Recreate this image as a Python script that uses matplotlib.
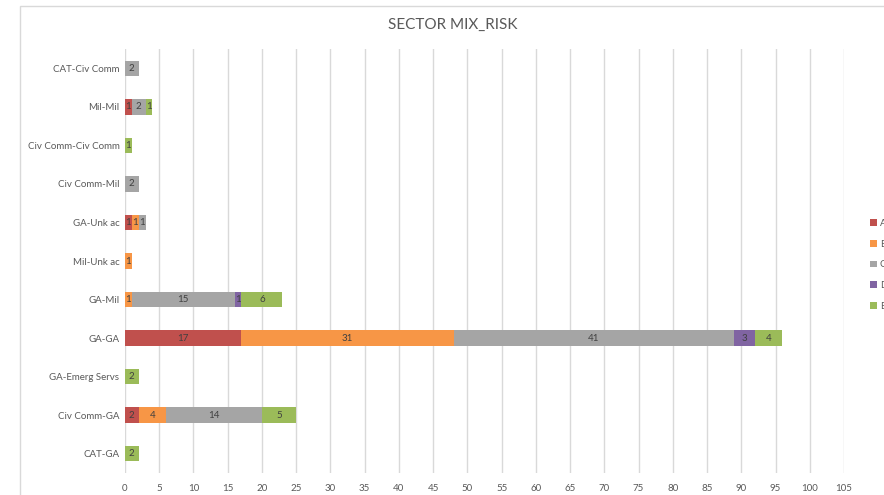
import matplotlib.pyplot as plt
import numpy as np
from matplotlib.patches import Rectangle, Patch

plt.rcParams['font.family'] = ['Lato', 'DejaVu Sans']

categories = ['CAT-Civ Comm', 'Mil-Mil', 'Civ Comm-Civ Comm', 'Civ Comm-Mil',
              'GA-Unk ac', 'Mil-Unk ac', 'GA-Mil', 'GA-GA', 'GA-Emerg Servs',
              'Civ Comm-GA', 'CAT-GA']
series_names = ['A', 'B', 'C', 'D', 'E']
A = [0, 1, 0, 0, 1, 0, 0, 17, 0, 2, 0]
B = [0, 0, 0, 0, 1, 1, 1, 31, 0, 4, 0]
C = [2, 2, 0, 2, 1, 0, 15, 41, 0, 14, 0]
D = [0, 0, 0, 0, 0, 0, 1, 3, 0, 0, 0]
E = [0, 1, 1, 0, 0, 0, 6, 4, 2, 5, 2]
colors = ['#C0504D', '#F79646', '#A5A5A5', '#8064A2', '#9BBB59']
xticks = list(range(0, 110, 5))

fig = plt.figure(figsize=(8.84, 4.95), dpi=100)
fig.patch.set_facecolor('white')

# chart frame
fig.patches.append(Rectangle((20 / 884, -0.1), 1.0, 1.0 - 6 / 495 + 0.1,
                             transform=fig.transFigure, fill=False,
                             edgecolor='#D9D9D9', linewidth=1.0))

ax = fig.add_axes([125 / 884, 1 - 473 / 495, 719 / 884, 424 / 495])

y = np.arange(len(categories))[::-1]
left = np.zeros(len(categories))
for name, vals, col in zip(series_names, [A, B, C, D, E], colors):
    vals = np.array(vals, dtype=float)
    ax.barh(y, vals, left=left, height=0.4, color=col, label=name, zorder=3)
    for yi, l, v in zip(y, left, vals):
        if v > 0:
            ax.text(l + v / 2, yi, f'{int(v)}', ha='center', va='center',
                    fontsize=7, color='#404040', zorder=4)
    left += vals

ax.set_xlim(0, 105)
ax.set_ylim(-0.5, len(categories) - 0.5)
ax.set_xticks(xticks)
ax.set_xticklabels([str(t) for t in xticks], fontsize=7, color='#595959')
ax.set_yticks(y)
ax.set_yticklabels(categories, fontsize=7, color='#595959')
ax.tick_params(axis='y', length=0, pad=4)
ax.tick_params(axis='x', length=0, pad=8)
ax.grid(axis='x', color='#D9D9D9', linewidth=1.0, zorder=0)
for s in ax.spines.values():
    s.set_visible(False)

fig.text(453 / 884, 1 - 25 / 495, 'SECTOR MIX_RISK', ha='center', va='center',
         fontsize=11, color='#595959')

handles = [Patch(facecolor=c) for c in colors]
fig.legend(handles, series_names, loc='upper left',
           bbox_to_anchor=(870 / 884, 1 - 219 / 495), frameon=False,
           fontsize=7, labelcolor='#595959', handlelength=0.7,
           handleheight=0.7, handletextpad=0.3, labelspacing=1.2,
           borderpad=0, borderaxespad=0)

fig.savefig('out.png', dpi=100)
